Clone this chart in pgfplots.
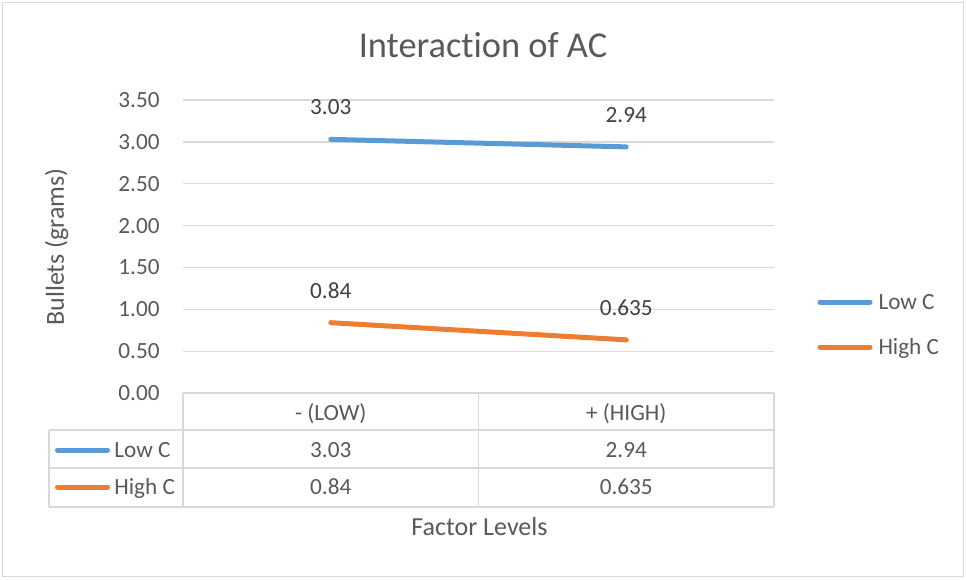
\documentclass[border=0pt]{standalone}
\usepackage{pgfplots}
\pgfplotsset{compat=1.18}
\usepackage{fontspec}
\setmainfont{Carlito}[Ligatures=NoCommon]
\definecolor{lowc}{HTML}{5B9BD5}
\definecolor{highc}{HTML}{ED7D31}
\definecolor{gridc}{HTML}{D9D9D9}
\definecolor{txt}{HTML}{595959}
\definecolor{dlab}{HTML}{404040}
\newcommand{\bodyfont}{\fontsize{11.6pt}{13pt}\selectfont}
\newcommand{\axfont}{\fontsize{13pt}{15pt}\selectfont}
\newcommand{\titfont}{\fontsize{18.2pt}{21pt}\selectfont}
\begin{document}
\begin{tikzpicture}
\path[use as bounding box] (0pt,0pt) rectangle (483.5pt,-289.5pt);
\begin{axis}[
  at={(91.5pt,-196.5pt)}, anchor=south west,
  scale only axis, width=295.5pt, height=146.5pt,
  xmin=-0.5, xmax=1.5, ymin=0, ymax=3.5,
  axis line style={draw=none},
  xtick=\empty,
  ytick={0,0.5,1,1.5,2,2.5,3,3.5},
  ymajorgrids, grid style={gridc, line width=0.65pt},
  major tick length=0pt,
  tick style={draw=none},
  yticklabel style={inner sep=0pt, xshift=-11.5pt, font=\bodyfont, text=txt},
  /pgf/number format/fixed, /pgf/number format/fixed zerofill,
  /pgf/number format/precision=2, /pgf/number format/assume math mode=true,
  clip=false,
  nodes near coords, point meta=explicit symbolic,
  nodes near coords style={anchor=center, yshift=16pt, font=\bodyfont, text=dlab, inner sep=0pt},
  legend cell align=left,
  legend style={draw=none, fill=none, inner sep=0pt, outer sep=0pt,
    at={(axis description cs:1.0736,0.3563)}, anchor=north west,
    row sep=9.09pt, column sep=3pt,
    nodes={inner sep=0pt, text height=10.44pt, text depth=2.97pt, font=\bodyfont, text=txt}},
  legend image code/.code={\draw[#1, line width=2.5pt, line cap=round] (0pt,0pt) -- (25pt,0pt);},
]
\addplot[lowc, line width=2.5pt, line cap=round, line join=round, mark=none] coordinates {(0,3.03)[3.03] (1,2.94)[2.94]};
\addlegendentry{Low C}
\addplot[highc, line width=2.5pt, line cap=round, line join=round, mark=none] coordinates {(0,0.84)[0.84] (1,0.635)[0.635]};
\addlegendentry{High C}
\end{axis}
\begin{scope}[x=0.5pt,y=-0.5pt]
\draw[gridc, line width=0.65pt] (2.5,2.5) rectangle (963.5,576.5);
\draw[gridc, line width=0.65pt]
  (49,430) -- (774,430)
  (49,468) -- (774,468)
  (49,507) -- (774,507)
  (49,430) -- (49,507)
  (183,393) -- (183,507)
  (478.5,393) -- (478.5,507)
  (774,393) -- (774,507);
\begin{scope}[every node/.style={font=\bodyfont, text=txt, anchor=base}]
\node at (330.75,420.7) {- (LOW)};
\node at (626.25,420.7) {+ (HIGH)};
\node at (330.75,457.3) {3.03};
\node at (626.25,457.3) {2.94};
\node at (330.75,494.3) {0.84};
\node at (626.25,494.3) {0.635};
\node[anchor=base west, inner sep=0pt] at (114,457.3) {Low C};
\node[anchor=base west, inner sep=0pt] at (114,494.3) {High C};
\end{scope}
\draw[lowc, line width=2.5pt, line cap=round] (57.5,450) -- (107.5,450);
\draw[highc, line width=2.5pt, line cap=round] (57.5,487) -- (107.5,487);
\node[rotate=90, font=\axfont, text=txt] at (56.5,247) {Bullets (grams)};
\node[anchor=base, font=\titfont, text=txt] at (483,57) {Interaction of AC};
\node[anchor=base, font=\axfont, text=txt] at (479.5,535) {Factor Levels};
\end{scope}
\end{tikzpicture}
\end{document}
